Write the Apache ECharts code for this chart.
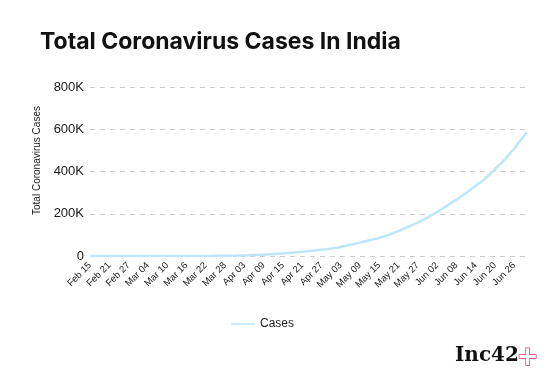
<!DOCTYPE html>
<html><head><meta charset="utf-8">
<script src="https://cdn.jsdelivr.net/npm/echarts@6/dist/echarts.min.js"></script>
<style>html,body{margin:0;padding:0;background:#fff}#c{width:553px;height:385px}</style>
</head><body><div id="c"></div>
<script>
var feb = ['Feb 15','Feb 16','Feb 17','Feb 18','Feb 19','Feb 20','Feb 21','Feb 22','Feb 23','Feb 24','Feb 25','Feb 26','Feb 27','Feb 28','Feb 29'];
var mar = ['Mar 01','Mar 02','Mar 03','Mar 04','Mar 05','Mar 06','Mar 07','Mar 08','Mar 09','Mar 10','Mar 11','Mar 12','Mar 13','Mar 14','Mar 15','Mar 16','Mar 17','Mar 18','Mar 19','Mar 20','Mar 21','Mar 22','Mar 23','Mar 24','Mar 25','Mar 26','Mar 27','Mar 28','Mar 29','Mar 30','Mar 31'];
var apr = ['Apr 01','Apr 02','Apr 03','Apr 04','Apr 05','Apr 06','Apr 07','Apr 08','Apr 09','Apr 10','Apr 11','Apr 12','Apr 13','Apr 14','Apr 15','Apr 16','Apr 17','Apr 18','Apr 19','Apr 20','Apr 21','Apr 22','Apr 23','Apr 24','Apr 25','Apr 26','Apr 27','Apr 28','Apr 29','Apr 30'];
var may = ['May 01','May 02','May 03','May 04','May 05','May 06','May 07','May 08','May 09','May 10','May 11','May 12','May 13','May 14','May 15','May 16','May 17','May 18','May 19','May 20','May 21','May 22','May 23','May 24','May 25','May 26','May 27','May 28','May 29','May 30','May 31'];
var jun = ['Jun 01','Jun 02','Jun 03','Jun 04','Jun 05','Jun 06','Jun 07','Jun 08','Jun 09','Jun 10','Jun 11','Jun 12','Jun 13','Jun 14','Jun 15','Jun 16','Jun 17','Jun 18','Jun 19','Jun 20','Jun 21','Jun 22','Jun 23','Jun 24','Jun 25','Jun 26','Jun 27','Jun 28','Jun 29','Jun 30'];
var categories = feb.concat(mar, apr, may, jun);

var casesFeb = [3,3,3,3,3,3,3,3,3,3,3,3,3,3,3];
var casesMar = [3,5,6,28,30,31,34,39,48,63,71,81,91,102,112,126,146,171,198,256,334,403,497,571,657,730,887,987,1024,1251,1397];
var casesApr = [1998,2543,2567,3082,3588,4778,5311,5916,6725,7598,8446,9205,10453,11487,12322,13430,14352,15722,17615,18539,20080,21370,23077,24530,26283,27890,29451,31324,33062,34863];
var casesMay = [37257,39699,42505,46437,49400,52987,56351,59695,62808,67161,70768,74292,78055,81997,85784,90648,95698,100328,106475,112028,118226,124794,131423,138536,144950,150793,158086,165386,173491,181827,190609];
var casesJun = [198370,207191,216824,226713,236184,246622,257486,265928,276146,286605,297535,308993,320922,332424,343091,354065,367264,380532,395048,410461,425282,440215,456183,473105,490401,508953,528859,548318,566840,585493];
var cases = casesFeb.concat(casesMar, casesApr, casesMay, casesJun);

var yTicks = ['0','200K','400K','600K','800K'];

var chart = echarts.init(document.getElementById('c'));
chart.setOption({
  animation: false,
  title: {
    text: 'Total Coronavirus Cases In India',
    left: 35, top: 26,
    textStyle: {fontFamily: 'Inter', fontWeight: 'bold', fontSize: 23, color: '#111'}
  },
  grid: {left: 90, right: 26, top: 87, bottom: 129},
  legend: {
    data: ['Cases'], left: 226, top: 313,
    itemWidth: 24, itemHeight: 10, itemGap: 6,
    icon: 'path://M0,4.2L24,4.2L24,5.8L0,5.8Z',
    textStyle: {fontFamily: 'Liberation Sans', fontSize: 12, color: '#222'}
  },
  xAxis: {
    type: 'category', data: categories, boundaryGap: false,
    axisLine: {show: false}, axisTick: {show: false},
    axisLabel: {interval: 5, rotate: 45, fontFamily: 'Liberation Sans', fontSize: 9.5, color: '#1a1a1a', margin: 8}
  },
  yAxis: {
    type: 'value', min: 0, max: 800000, interval: 200000,
    name: 'Total Coronavirus Cases', nameLocation: 'middle', nameGap: 48, nameRotate: 90,
    nameTextStyle: {fontFamily: 'Liberation Sans', fontSize: 10, color: '#1a1a1a', padding: [0, 0, 0, 22]},
    axisLine: {show: false}, axisTick: {show: false},
    axisLabel: {fontFamily: 'Liberation Sans', fontSize: 13, color: '#1a1a1a', margin: 6,
      formatter: function (v) { return yTicks[Math.round(v / 200000)]; }},
    splitLine: {lineStyle: {type: [5, 5], color: '#ccc', width: 1}}
  },
  series: [{
    name: 'Cases', type: 'line', data: cases, smooth: true, showSymbol: false,
    lineStyle: {color: '#bde6fa', width: 2.5}, itemStyle: {color: '#bde6fa'}
  }],
  graphic: [
    {type: 'text', left: 455, top: 346, style: {text: 'Inc42', font: 'bold 20px "DejaVu Serif"', fill: '#111'}},
    {type: 'text', left: 516, top: 344, style: {text: '+', font: 'bold 26px "DejaVu Sans"', fill: '#fff', stroke: '#e8375a', lineWidth: 1.5}}
  ]
});
</script></body></html>
